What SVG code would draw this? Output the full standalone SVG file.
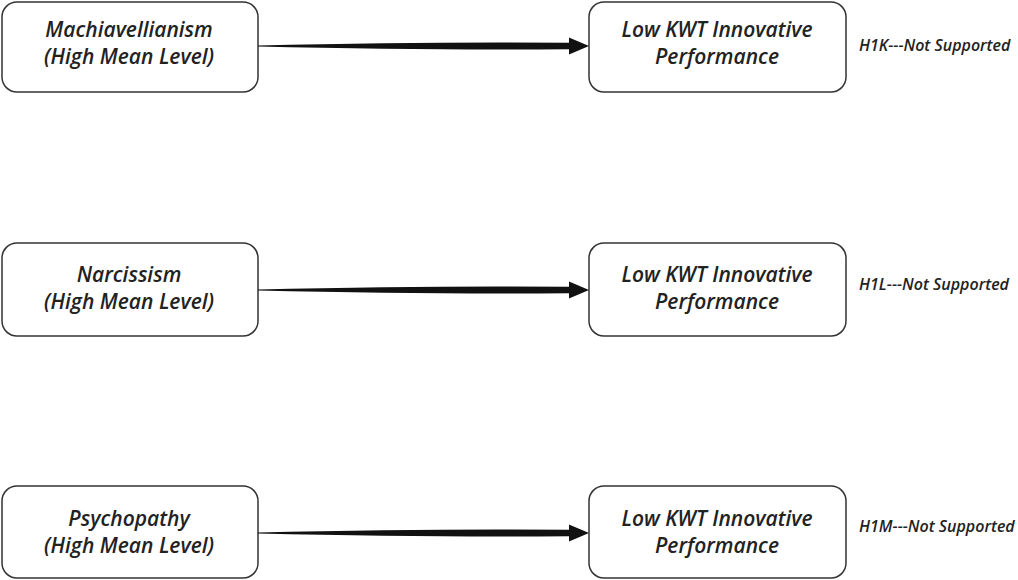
<svg xmlns="http://www.w3.org/2000/svg" width="1018" height="580" viewBox="0 0 1018 580">
<style>
.box{fill:#fff;stroke:#333;stroke-width:1.5}
.t{font-family:"Open Sans","Noto Sans",sans-serif;font-style:italic;font-weight:600;font-size:21px;fill:#222;text-anchor:middle}
.lab{font-family:"Open Sans","Noto Sans",sans-serif;font-style:italic;font-weight:600;font-size:16px;fill:#222}
.arr{fill:#111}
</style>
<rect width="1018" height="580" fill="#fff"/>
<g id="mach"><rect class="box" x="2" y="2" width="256" height="90" rx="15"/><text class="t" x="129" y="37">Machiavellianism</text><text class="t" x="129" y="64">(High Mean Level)</text></g>
<g id="out1"><rect class="box" x="589" y="2" width="257" height="90" rx="15"/><text class="t" x="717" y="37">Low KWT Innovative</text><text class="t" x="717" y="64">Performance</text></g>
<g id="narc"><rect class="box" x="2" y="243" width="256" height="93" rx="15"/><text class="t" x="129" y="282">Narcissism</text><text class="t" x="129" y="309">(High Mean Level)</text></g>
<g id="out2"><rect class="box" x="589" y="243" width="257" height="93" rx="15"/><text class="t" x="717" y="282">Low KWT Innovative</text><text class="t" x="717" y="309">Performance</text></g>
<g id="psych"><rect class="box" x="2" y="486" width="256" height="92" rx="15"/><text class="t" x="129" y="526">Psychopathy</text><text class="t" x="129" y="553">(High Mean Level)</text></g>
<g id="out3"><rect class="box" x="589" y="486" width="257" height="92" rx="15"/><text class="t" x="717" y="526">Low KWT Innovative</text><text class="t" x="717" y="553">Performance</text></g>
<g id="labels">
<text class="lab" x="859" y="51">H1K---Not Supported</text>
<text class="lab" x="859" y="290">H1L---Not Supported</text>
<text class="lab" x="859" y="532">H1M---Not Supported</text>
</g>
<g id="connectors">
<path class="arr" d="M258,45.5 Q430,41.5 569,42.8 L569,37.5 L589,46 L569,54.5 L569,49.2 Q430,50.5 258,46.5 Z"/>
<path class="arr" d="M258,289.5 Q430,285.5 569,286.8 L569,281.5 L589,290 L569,298.5 L569,293.2 Q430,294.5 258,290.5 Z"/>
<path class="arr" d="M258,532.5 Q430,528.5 569,529.8 L569,524.5 L589,533 L569,541.5 L569,536.2 Q430,537.5 258,533.5 Z"/>
</g>
</svg>
